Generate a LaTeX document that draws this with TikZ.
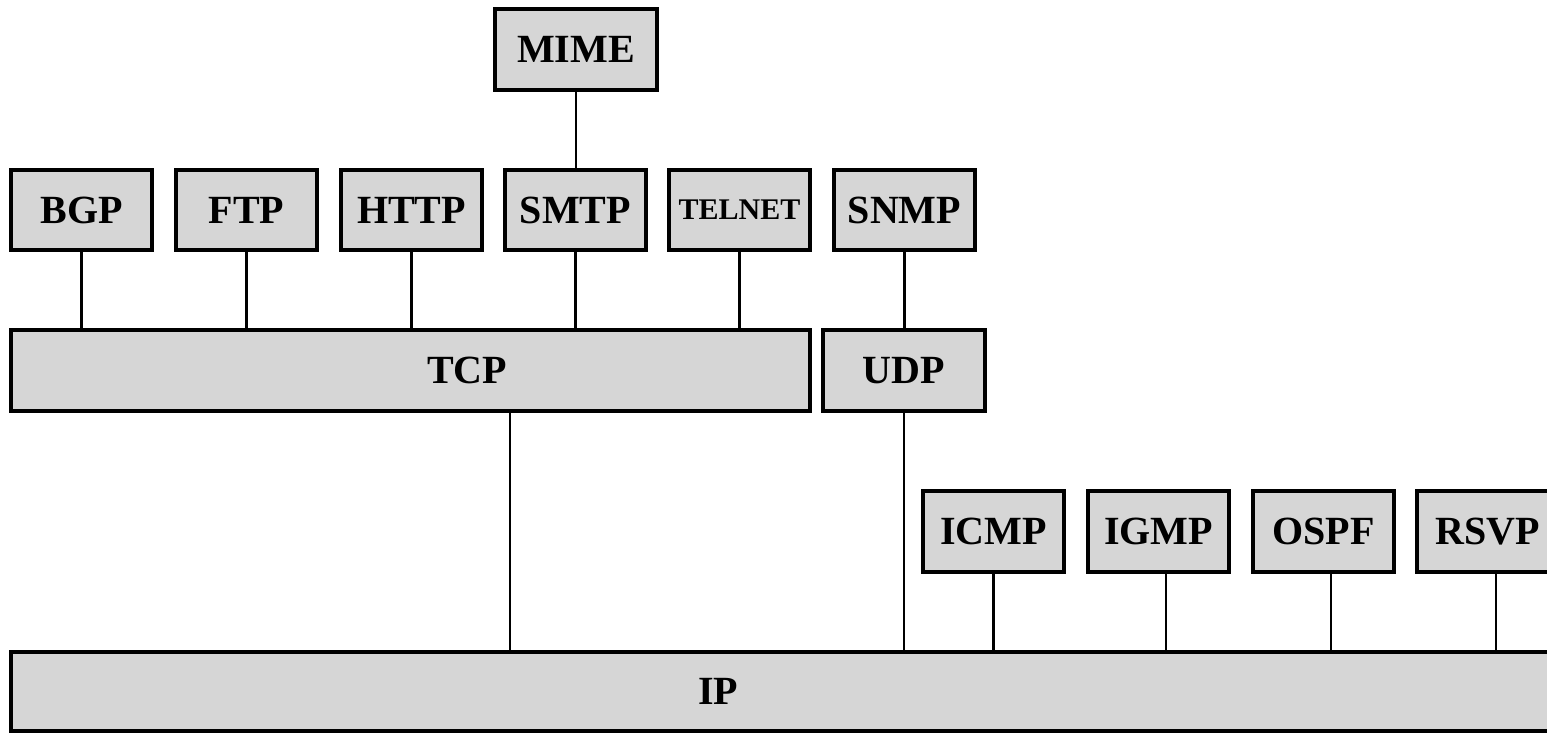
\documentclass[tikz,border=0pt]{standalone}
\usepackage{fontspec}
\setmainfont{Liberation Serif}
\definecolor{boxgray}{RGB}{214,214,214}
\tikzset{
  proto/.style={draw=black, fill=boxgray, line width=3.5pt, inner sep=0pt,
    font=\fontsize{40}{48}\selectfont\bfseries},
  small/.style={proto, minimum width=141pt, minimum height=80pt},
  wire/.style={line width=2.6pt},
  lbl/.style={font=\fontsize{40}{48}\selectfont\bfseries, inner sep=0pt}
}
\begin{document}
\begin{tikzpicture}[x=1pt,y=-1pt]
\useasboundingbox (0,0) rectangle (1547,732);
\clip (0,0) rectangle (1547,732);
\fill[white] (0,0) rectangle (1547,732);
% top
\node[proto, minimum width=162pt, minimum height=81pt] (mime) at (576,49.5) {MIME};
% application row
\node[small] (bgp) at (81.5,210) {BGP};
\node[small] (ftp) at (246.5,210) {FTP};
\node[small] (http) at (411.5,210) {HTTP};
\node[small] (smtp) at (575.5,210) {SMTP};
\node[small, font=\fontsize{30}{36}\selectfont\bfseries] (telnet) at (739.5,210) {TELNET};
\node[small] (snmp) at (904.5,210) {SNMP};
% transport
\node[proto, minimum width=799pt, minimum height=81pt] (tcp) at (410.5,370.5) {};
\node[lbl] (tcplbl) at (467,370.5) {TCP};
\node[proto, minimum width=162pt, minimum height=81pt] (udp) at (904,370.5) {UDP};
% network helpers
\node[small, minimum height=81pt] (icmp) at (993.5,531.5) {ICMP};
\node[small, minimum height=81pt] (igmp) at (1158.5,531.5) {IGMP};
\node[small, minimum height=81pt] (ospf) at (1323.5,531.5) {OSPF};
\node[small, minimum height=81pt] (rsvp) at (1487.5,531.5) {RSVP};
% IP
\node[proto, minimum width=1560pt, minimum height=79pt] (ip) at (791,691.5) {};
\node[lbl] (iplbl) at (718,691.5) {IP};
% connectors
\draw[wire] (mime.south) -- (mime.south |- smtp.north);
\draw[wire] (bgp.south) -- (bgp.south |- tcp.north);
\draw[wire] (ftp.south) -- (ftp.south |- tcp.north);
\draw[wire] (http.south) -- (http.south |- tcp.north);
\draw[wire] (smtp.south) -- (smtp.south |- tcp.north);
\draw[wire] (telnet.south) -- (telnet.south |- tcp.north);
\draw[wire] (snmp.south) -- (snmp.south |- udp.north);
\draw[wire] ([xshift=99.5pt]tcp.south) -- ([xshift=99.5pt]tcp.south |- ip.north);
\draw[wire] (udp.south) -- (udp.south |- ip.north);
\draw[wire] (icmp.south) -- (icmp.south |- ip.north);
\draw[wire] ([xshift=7.5pt]igmp.south) -- ([xshift=7.5pt]igmp.south |- ip.north);
\draw[wire] ([xshift=7.5pt]ospf.south) -- ([xshift=7.5pt]ospf.south |- ip.north);
\draw[wire] ([xshift=8.5pt]rsvp.south) -- ([xshift=8.5pt]rsvp.south |- ip.north);
\end{tikzpicture}
\end{document}
